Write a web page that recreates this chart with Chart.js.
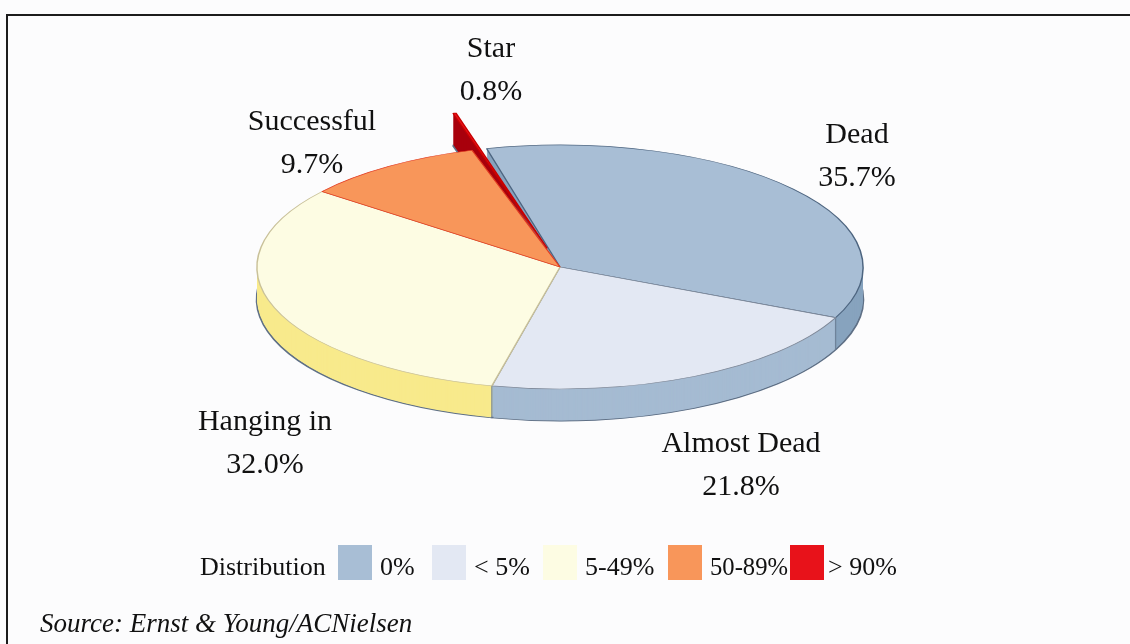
<!DOCTYPE html>
<html>
<head>
<meta charset="utf-8">
<script src="https://cdn.jsdelivr.net/npm/chart.js@4.4.1/dist/chart.umd.min.js"></script>
<style>
  html, body { margin: 0; padding: 0; background: #fcfcfd; }
  #wrap { position: relative; width: 1130px; height: 644px; overflow: hidden; }
  canvas { display: block; }
</style>
</head>
<body>
<div id="wrap"><canvas id="pie" width="1130" height="644"></canvas></div>
<script>
// ---- data ----
const categories   = ['Dead', 'Almost Dead', 'Hanging in', 'Successful', 'Star'];
const shares       = [35.7, 21.8, 32.0, 9.7, 0.8];
const distribution = ['0%', '< 5%', '5-49%', '50-89%', '> 90%'];
const sourceNote   = 'Source: Ernst & Young/ACNielsen';

// ---- styling ----
const topColors  = ['#a8bed5', '#e3e8f3', '#fdfce3', '#f8965a', '#e8121a'];
const wallColors = ['#87a3be', '#a5bbd2', '#f8ea8c', '#e06a2a', '#a8000c'];
const edgeColors = ['#4d6580', '#7d8797', '#c9c19a', '#e23a20', '#c80000'];
const pulledOut  = [0, 0, 0, 0, 192];

// pie placement on the page: centre, tilt (vertical squash) and rim thickness
const PIE = { cx: 560, cy: 267, radius: 303, tilt: 0.4026, depth: 32 };

// label anchors (centre x, baseline of the name line)
const labelAnchors = [[857, 143], [741, 452], [265, 430], [312, 130], [491, 57]];
const legendBoxX = [338, 432, 543, 668, 790];

const SERIF = '"Liberation Serif", "Times New Roman", serif';

function tiltTransform(ctx, el, dy) {
  ctx.translate(PIE.cx, PIE.cy + dy);
  ctx.scale(1, PIE.tilt);
  ctx.translate(-el.x, -el.y);
}

// Extrudes the pie: stacked copies of every arc in its wall colour, then the
// library draws the top faces inside the same tilted transform.
const pie3d = {
  id: 'pie3d',
  beforeDatasetsDraw(chart) {
    const ctx = chart.ctx;
    const arcs = chart.getDatasetMeta(0).data;
    for (let d = PIE.depth; d >= 1; d--) {
      ctx.save();
      tiltTransform(ctx, arcs[0], d);
      arcs.forEach((el, i) => {
        const layer = Object.create(el);
        layer.options = Object.assign({}, el.options, {
          backgroundColor: wallColors[i],
          borderColor: d === PIE.depth ? '#5f7086' : wallColors[i],
          borderWidth: d === PIE.depth ? 2.4 : 0
        });
        layer.draw(ctx);
      });
      ctx.restore();
    }
    // vertical seams where two slices meet on the front wall
    ctx.save();
    ctx.strokeStyle = '#6a7c92';
    ctx.lineWidth = 1;
    arcs.forEach((el, i) => {
      if (pulledOut[i]) return;
      const a = el.endAngle;
      if (Math.sin(a) <= 0.02) return;
      const x = PIE.cx + el.outerRadius * Math.cos(a);
      const y = PIE.cy + PIE.tilt * el.outerRadius * Math.sin(a);
      ctx.beginPath();
      ctx.moveTo(x, y);
      ctx.lineTo(x, y + PIE.depth);
      ctx.stroke();
    });
    ctx.restore();

    ctx.save();
    tiltTransform(ctx, arcs[0], 0);
  },
  afterDatasetsDraw(chart) {
    chart.ctx.restore();
  }
};

const page = {
  id: 'page',
  beforeDraw(chart) {
    const ctx = chart.ctx;
    ctx.save();
    ctx.fillStyle = '#fcfcfd';
    ctx.fillRect(0, 0, chart.width, chart.height);
    ctx.restore();
  },
  afterDraw(chart) {
    const ctx = chart.ctx;
    ctx.save();
    // frame
    ctx.fillStyle = '#1c1c1c';
    ctx.fillRect(6, 14, chart.width - 6, 2);
    ctx.fillRect(6, 14, 2, chart.height - 14);

    // slice labels
    ctx.fillStyle = '#111';
    ctx.textAlign = 'center';
    ctx.textBaseline = 'alphabetic';
    ctx.font = '30px ' + SERIF;
    categories.forEach((name, i) => {
      const [x, y] = labelAnchors[i];
      ctx.fillText(name, x, y);
      ctx.fillText(shares[i].toFixed(1) + '%', x, y + 43);
    });

    // legend
    ctx.textAlign = 'left';
    ctx.font = '26px ' + SERIF;
    ctx.fillText('Distribution', 200, 575);
    distribution.forEach((lab, i) => {
      const bx = legendBoxX[i];
      ctx.fillStyle = topColors[i];
      ctx.fillRect(bx, 545, 34, 35);
      ctx.fillStyle = '#111';
      const tx = bx + (i === 4 ? 38 : 42);
      const room = i < 4 ? legendBoxX[i + 1] - tx - 2 : 200;
      ctx.fillText(lab, tx, 575, room);
    });

    // source line
    ctx.font = 'italic 27px ' + SERIF;
    ctx.fillText(sourceNote, 40, 632);
    ctx.restore();
  }
};

new Chart(document.getElementById('pie'), {
  type: 'pie',
  data: {
    labels: categories,
    datasets: [{
      data: shares,
      backgroundColor: topColors,
      borderColor: edgeColors,
      borderWidth: 1.5,
      offset: pulledOut,
      clip: false
    }]
  },
  options: {
    responsive: false,
    animation: false,
    events: [],
    rotation: -14,
    radius: PIE.radius,
    layout: { padding: 0 },
    plugins: { legend: { display: false }, tooltip: { enabled: false } }
  },
  plugins: [page, pie3d]
});
</script>
</body>
</html>
